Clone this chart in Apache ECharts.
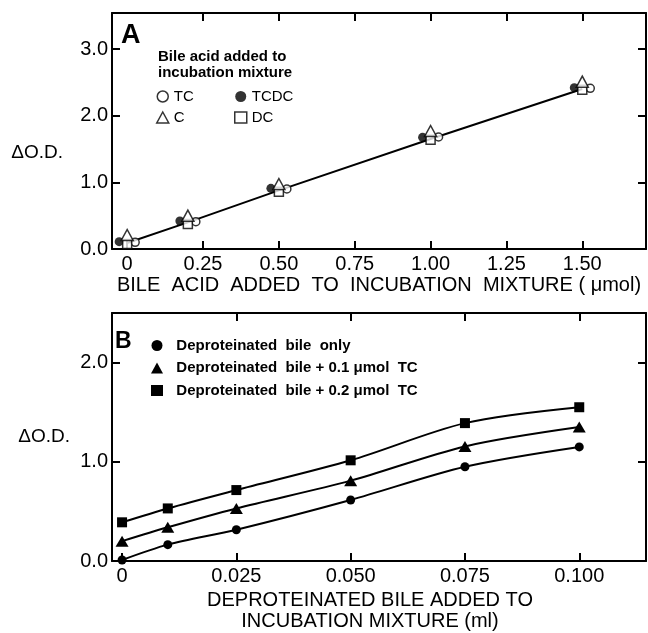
<!DOCTYPE html>
<html>
<head>
<meta charset="utf-8">
<script src="https://cdn.jsdelivr.net/npm/echarts@6/dist/echarts.min.js"></script>
<style>
  html, body { margin: 0; padding: 0; background: #fff; }
  #chart { width: 648px; height: 633px; }
</style>
</head>
<body>
<div id="chart"></div>
<script>
// panel A: bile acid standards
var xA = [0, 0.2, 0.5, 1.0, 1.5]
var tcA = [0.10, 0.41, 0.90, 1.68, 2.41]
var tcdcA = [0.11, 0.42, 0.91, 1.675, 2.42]
var cA = [0.21, 0.50, 0.975, 1.77, 2.51]
var dcA = [0.075, 0.375, 0.86, 1.64, 2.39]
var fitA = [0.09, 0.40, 0.88, 1.65, 2.40]

// panel B: deproteinated bile
var xB = [0, 0.01, 0.025, 0.05, 0.075, 0.1]
var bileOnly = [0.01, 0.165, 0.315, 0.615, 0.95, 1.15]
var bileTC1 = [0.20, 0.34, 0.53, 0.81, 1.155, 1.35]
var bileTC2 = [0.39, 0.53, 0.715, 1.015, 1.39, 1.55]

// tick values and labels
var ticksAx = [0, 0.25, 0.5, 0.75, 1.0, 1.25, 1.5]
var labelsAx = ['0', '0.25', '0.50', '0.75', '1.00', '1.25', '1.50']
var ticksAy = [0, 1, 2, 3]
var labelsAy = ['0.0', '1.0', '2.0', '3.0']
var ticksBx = [0, 0.025, 0.05, 0.075, 0.1]
var labelsBx = ['0', '0.025', '0.050', '0.075', '0.100']
var ticksBy = [0, 1, 2]
var labelsBy = ['0.0', '1.0', '2.0']

var FONT = '"Liberation Sans", Arial, sans-serif'

function pairs(xs, ys) {
  return xs.map(function(x, i) { return [x, ys[i]] })
}
function fmt(ticks, labels) {
  return function(v) {
    for (var i = 0; i < ticks.length; i++) {
      if (Math.abs(ticks[i] - v) < 1e-9) return labels[i]
    }
    return ''
  }
}

var axisLine = { show: true, onZero: false, lineStyle: { color: '#000', width: 2 } }

function mainX(grid, min, max, ticks, labels, name, gap, pad) {
  return {
    type: 'value', gridIndex: grid, position: 'bottom', min: min, max: max,
    axisLine: axisLine,
    axisTick: { inside: true, length: 8, customValues: ticks, lineStyle: { color: '#000', width: 2 } },
    axisLabel: { customValues: ticks, formatter: fmt(ticks, labels), margin: 5,
      color: '#000', fontSize: 20, fontFamily: FONT },
    splitLine: { show: false },
    name: name, nameLocation: 'middle', nameGap: gap,
    nameTextStyle: { color: '#000', fontSize: 20, fontFamily: FONT, lineHeight: 21, padding: pad }
  }
}
function mirrorX(grid, min, max, ticks) {
  return {
    type: 'value', gridIndex: grid, position: 'top', min: min, max: max,
    axisLine: axisLine,
    axisTick: { inside: true, length: 8, customValues: ticks, lineStyle: { color: '#000', width: 2 } },
    axisLabel: { show: false }, splitLine: { show: false }
  }
}
function mainY(grid, min, max, ticks, labels, gap, vAlign, lh) {
  return {
    type: 'value', gridIndex: grid, position: 'left', min: min, max: max,
    axisLine: axisLine,
    axisTick: { inside: true, length: 8, customValues: ticks, lineStyle: { color: '#000', width: 2 } },
    axisLabel: { customValues: ticks, formatter: fmt(ticks, labels), margin: 4,
      color: '#000', fontSize: 20, fontFamily: FONT },
    splitLine: { show: false },
    name: 'ΔO.D.', nameLocation: 'middle', nameRotate: 0, nameGap: gap,
    nameTextStyle: { color: '#000', fontSize: 19, fontFamily: FONT, verticalAlign: vAlign, lineHeight: lh }
  }
}
function mirrorY(grid, min, max, ticks) {
  return {
    type: 'value', gridIndex: grid, position: 'right', min: min, max: max,
    axisLine: axisLine,
    axisTick: { inside: true, length: 8, customValues: ticks, lineStyle: { color: '#000', width: 2 } },
    axisLabel: { show: false }, splitLine: { show: false }
  }
}

var hollow = { color: '#fff', borderColor: '#000', borderWidth: 1.5 }
var solid = { color: '#000' }

var chart = echarts.init(document.getElementById('chart'))
chart.setOption({
  animation: false,
  backgroundColor: '#fff',
  textStyle: { fontFamily: FONT },
  title: [
    { text: 'A', left: 121, top: 22, padding: 0,
      textStyle: { fontSize: 27, fontWeight: 'bold', color: '#000', fontFamily: FONT } },
    { text: 'Bile acid added to\nincubation mixture', left: 158, top: 49, padding: 0,
      textStyle: { fontSize: 15, fontWeight: 'bold', lineHeight: 16, color: '#000', fontFamily: FONT } },
    { text: 'B', left: 115, top: 330, padding: 0,
      textStyle: { fontSize: 23, fontWeight: 'bold', color: '#000', fontFamily: FONT } }
  ],
  legend: [
    { orient: 'vertical', left: 156, top: 89, padding: 0, itemWidth: 12, itemHeight: 11, itemGap: 6,
      textStyle: { fontSize: 15, color: '#000', fontFamily: FONT },
      data: [
        { name: 'TC', icon: 'circle', itemStyle: hollow },
        { name: 'C', icon: 'triangle', itemStyle: hollow }
      ] },
    { orient: 'vertical', left: 234, top: 89, padding: 0, itemWidth: 12, itemHeight: 11, itemGap: 6,
      textStyle: { fontSize: 15, color: '#000', fontFamily: FONT },
      data: [
        { name: 'TCDC', icon: 'circle', itemStyle: solid },
        { name: 'DC', icon: 'rect', itemStyle: hollow }
      ] },
    { orient: 'vertical', left: 151, top: 338, padding: 0, itemWidth: 12, itemHeight: 11, itemGap: 7.5,
      formatter: function(name) { return '  ' + name },
      textStyle: { fontSize: 15, fontWeight: 'bold', color: '#000', fontFamily: FONT },
      data: [
        { name: 'Deproteinated  bile  only', icon: 'circle', itemStyle: solid },
        { name: 'Deproteinated  bile + 0.1 μmol  TC', icon: 'triangle', itemStyle: solid },
        { name: 'Deproteinated  bile + 0.2 μmol  TC', icon: 'rect', itemStyle: solid }
      ] }
  ],
  grid: [
    { left: 112, right: 2, top: 13, height: 236 },
    { left: 112, right: 2, top: 313, height: 250 }
  ],
  xAxis: [
    mainX(0, -0.05, 1.71, ticksAx, labelsAx, 'BILE  ACID  ADDED  TO  INCUBATION  MIXTURE ( μmol)', 24, 0),
    mirrorX(0, -0.05, 1.71, ticksAx.slice(1)),
    mainX(1, -0.0022, 0.1146, ticksBx, labelsBx, 'DEPROTEINATED BILE ADDED TO\nINCUBATION MIXTURE (ml)', 29, [0, 18, 0, 0]),
    mirrorX(1, -0.0022, 0.1146, ticksBx.slice(1))
  ],
  yAxis: [
    mainY(0, 0, 3.54, ticksAy, labelsAy, 49, 'top', 44),
    mirrorY(0, 0, 3.54, ticksAy),
    mainY(1, 0, 2.5, ticksBy, labelsBy, 42, 'middle', 19),
    mirrorY(1, 0, 2.5, ticksBy)
  ],
  series: [
    { name: 'fit', type: 'line', xAxisIndex: 0, yAxisIndex: 0, data: pairs(xA, fitA),
      symbol: 'none', lineStyle: { color: '#000', width: 2 }, z: 2 },
    { name: 'TCDC', type: 'scatter', xAxisIndex: 0, yAxisIndex: 0, data: pairs(xA, tcdcA),
      symbol: 'circle', symbolSize: 9, symbolOffset: [-8, 0], itemStyle: solid, z: 3 },
    { name: 'TC', type: 'scatter', xAxisIndex: 0, yAxisIndex: 0, data: pairs(xA, tcA),
      symbol: 'circle', symbolSize: 8, symbolOffset: [8, 0], itemStyle: hollow, z: 3 },
    { name: 'DC', type: 'scatter', xAxisIndex: 0, yAxisIndex: 0, data: pairs(xA, dcA),
      symbol: 'rect', symbolSize: 9, itemStyle: hollow, z: 4 },
    { name: 'C', type: 'scatter', xAxisIndex: 0, yAxisIndex: 0, data: pairs(xA, cA),
      symbol: 'triangle', symbolSize: [12, 11], itemStyle: hollow, z: 5 },

    { name: 'Deproteinated  bile  only', type: 'line', xAxisIndex: 2, yAxisIndex: 2,
      data: pairs(xB, bileOnly), smooth: 0.3, symbol: 'circle', symbolSize: 9,
      itemStyle: solid, lineStyle: { color: '#000', width: 2 } },
    { name: 'Deproteinated  bile + 0.1 μmol  TC', type: 'line', xAxisIndex: 2, yAxisIndex: 2,
      data: pairs(xB, bileTC1), smooth: 0.3, symbol: 'triangle', symbolSize: [13, 11],
      itemStyle: solid, lineStyle: { color: '#000', width: 2 } },
    { name: 'Deproteinated  bile + 0.2 μmol  TC', type: 'line', xAxisIndex: 2, yAxisIndex: 2,
      data: pairs(xB, bileTC2), smooth: 0.3, symbol: 'rect', symbolSize: 10,
      itemStyle: solid, lineStyle: { color: '#000', width: 2 } }
  ]
})
</script>
</body>
</html>
